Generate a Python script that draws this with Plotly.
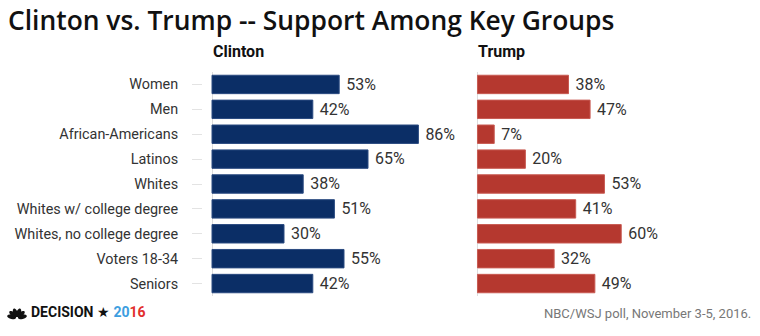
import math
import plotly.graph_objects as go

groups = ["Women", "Men", "African-Americans", "Latinos", "Whites",
          "Whites w/ college degree", "Whites, no college degree",
          "Voters 18-34", "Seniors"]
clinton = [53, 42, 86, 65, 38, 51, 30, 55, 42]
trump = [38, 47, 7, 20, 53, 41, 60, 32, 49]

W, H = 760, 336
ML, MR, MT, MB = 203, 0, 72, 40
PW, PH = W - ML - MR, H - MT - MB
PXPER = 2.4

def px2x(px):
    return (px - ML) / PW

def py2y(py):
    return (H - MB - py) / PH

NAVY = "#0b2e66"
RED = "#b5382f"
TXT = "#333333"

fig = go.Figure()
fig.add_trace(go.Bar(
    y=groups, x=clinton, orientation="h", xaxis="x", yaxis="y",
    marker=dict(color=NAVY, line=dict(width=1, color="#2a4a80")),
    text=[f" {v}%" for v in clinton], textposition="outside",
    textfont=dict(family="Roboto", size=16.5, color=TXT),
    cliponaxis=False, hoverinfo="skip"))
fig.add_trace(go.Bar(
    y=groups, x=trump, orientation="h", xaxis="x2", yaxis="y",
    marker=dict(color=RED, line=dict(width=1, color="#c85a52")),
    text=[f" {v}%" for v in trump], textposition="outside",
    textfont=dict(family="Roboto", size=16.5, color=TXT),
    cliponaxis=False, hoverinfo="skip"))

c_lo = -(212 - ML) / PXPER
c_hi = (466 - 212) / PXPER
t_lo = -0.4
t_hi = (760 - 477) / PXPER

fig.update_layout(
    width=W, height=H,
    margin=dict(l=ML, r=MR, t=MT, b=MB, pad=0),
    paper_bgcolor="white", plot_bgcolor="white",
    showlegend=False, bargap=0.26,
    font=dict(family="Roboto", color=TXT),
    xaxis=dict(domain=[0, px2x(466)], range=[c_lo, c_hi], showgrid=False,
               showticklabels=False, ticks="", zeroline=True,
               zerolinecolor="#dddddd", zerolinewidth=1, showline=False),
    xaxis2=dict(domain=[px2x(476.5), 1], range=[t_lo, t_hi], showgrid=False,
                showticklabels=False, ticks="", zeroline=True,
                zerolinecolor="#dddddd", zerolinewidth=1, showline=False,
                anchor="y"),
    yaxis=dict(type="category", range=[8.5, -0.5], showgrid=False,
               ticks="outside", ticklen=10, tickcolor="#e3e3e3", tickwidth=1,
               ticklabelstandoff=11,
               tickfont=dict(family="Roboto", size=14.4, color=TXT),
               showline=False, zeroline=False),
    title=dict(text="Clinton vs. Trump -- Support Among Key Groups",
               x=8 / W, xanchor="left", xref="container",
               y=1 - 21 / H, yanchor="middle", yref="container",
               font=dict(family="Open Sans", size=26.4, color="#111111", weight=600)),
)

ann = [
    dict(text="<b>Clinton</b>", xref="paper", yref="paper",
         x=px2x(211), y=py2y(51), xanchor="left", yanchor="middle",
         showarrow=False, font=dict(family="Roboto", size=16, color="#111111")),
    dict(text="<b>Trump</b>", xref="paper", yref="paper",
         x=px2x(476), y=py2y(51), xanchor="left", yanchor="middle",
         showarrow=False, font=dict(family="Roboto", size=16, color="#111111")),
    dict(text="NBC/WSJ poll, November 3-5, 2016.", xref="paper", yref="paper",
         x=px2x(753), y=py2y(313), xanchor="right", yanchor="middle",
         showarrow=False, font=dict(family="Roboto", size=13, color="#777777")),
    dict(text="<b>DECISION</b> ★ <b><span style='color:#3d9ee0'>20</span>"
              "<span style='color:#e2302d'>16</span></b>",
         xref="paper", yref="paper",
         x=px2x(29), y=py2y(312), xanchor="left", yanchor="middle",
         showarrow=False, font=dict(family="Roboto", size=14, color="#111111")),
]
fig.update_layout(annotations=ann)

# small peacock-style logo mark
shapes = []
cx, cy = 17.0, 318.0
angles = [168, 138, 108, 72, 42, 12]
for a in angles:
    t = math.radians(a)
    ux, uy = math.cos(t), -math.sin(t)
    vx, vy = -uy, ux
    pts = []
    for k in range(0, 21):
        s = k / 20 * 2 * math.pi
        along = 5.5 + 4.5 * math.cos(s)
        across = 2.2 * math.sin(s)
        px = cx + ux * along + vx * across
        py = cy + uy * along + vy * across
        pts.append((px2x(px), py2y(py)))
    path = "M " + " L ".join(f"{x:.5f},{y:.5f}" for x, y in pts) + " Z"
    shapes.append(dict(type="path", xref="paper", yref="paper", path=path,
                       fillcolor="#111111", line=dict(width=0)))
fig.update_layout(shapes=shapes)

fig.write_html("out.html")
